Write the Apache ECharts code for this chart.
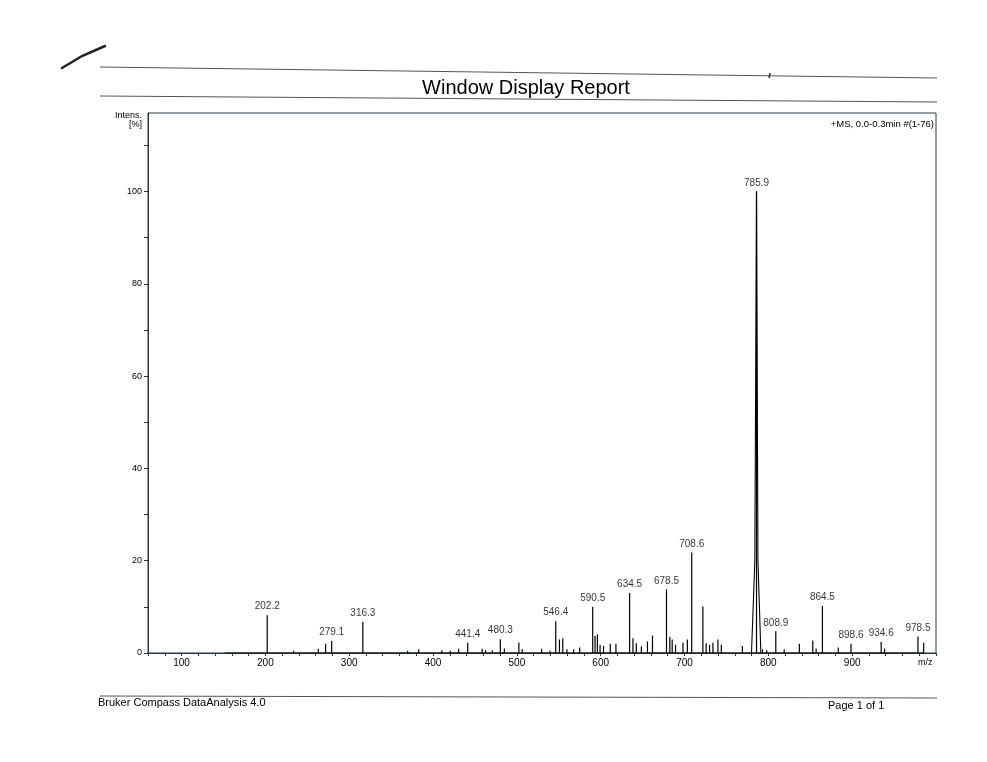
<!DOCTYPE html>
<html>
<head>
<meta charset="utf-8">
<title>Window Display Report</title>
<script src="https://cdn.jsdelivr.net/npm/echarts@6/dist/echarts.min.js"></script>
<style>
html, body {margin: 0; padding: 0; background: #fff;}
#report {width: 987px; height: 762px;}
</style>
</head>
<body>
<div id="report"></div>
<script>
// labelled peaks (m/z, intensity %)
var labelMz  = [202.2, 279.1, 316.3, 441.4, 480.3, 546.4, 590.5, 634.5, 678.5, 708.6, 785.9, 808.9, 864.5, 898.6, 934.6, 978.5];
var labelInt = [8.2,   2.6,   6.7,   2.2,   3.0,   6.9,   10.0,  13.0,  13.8,  21.8,  100,   4.7,   10.2,  2.0,   2.4,   3.6];

// small unlabelled peaks
var minorMz  = [152, 178, 188, 233.7, 263.1, 271.9, 359.7, 369.7, 382.9, 410.5, 420.5, 430.6, 458.6, 462.7, 470.7, 485.1, 502.4, 506.4,
                529.5, 539.6, 550.8, 554.8, 559.7, 567.7, 575, 593.3, 596.1, 599.3, 603.4, 611.4, 618.2,
                638.5, 642.5, 648.5, 655.8, 661.8, 682.5, 685.3, 689.3, 698.2, 703.4,
                721.9, 725.8, 729.9, 733.9, 739.9, 743.9, 769, 793, 798, 818.9, 837, 853, 857, 883.4, 938.6, 985.3];
var minorInt = [0.2, 0.3, 0.3, 0.5, 0.9, 2.0, 0.4, 0.5, 0.8, 0.6, 0.5, 0.9, 0.9, 0.6, 0.6, 1.0, 2.3, 0.8,
                0.9, 0.5, 2.9, 3.2, 0.8, 0.8, 1.2, 3.7, 4.0, 1.8, 1.5, 2.0, 2.0,
                3.2, 2.1, 1.4, 2.5, 3.8, 3.5, 2.9, 1.8, 2.2, 2.9,
                10.1, 2.1, 1.8, 2.2, 2.9, 1.8, 1.5, 0.8, 0.6, 0.8, 2.0, 2.7, 1.0, 1.2, 1.0, 2.2];

// profile of the base peak
var baseMz  = [779.9, 783.9, 785.9, 787.6, 791.1];
var baseInt = [0, 20, 100, 20, 0];

// tick labels
var xTicks = [100, 200, 300, 400, 500, 600, 700, 800, 900];
var yTicks = [0, 20, 40, 60, 80, 100];

var lineColor = '#000';
var frameColor = '#26364a';
var textColor = '#000';
var font = 'Liberation Sans';

// stick spectrum
var peaks = [];
for (var i = 0; i < labelMz.length; i++) peaks.push([labelMz[i], labelInt[i]]);
for (var j = 0; j < minorMz.length; j++) peaks.push([minorMz[j], minorInt[j]]);
peaks.sort(function (a, b) { return a[0] - b[0]; });
var sticks = [];
for (var k = 0; k < peaks.length; k++) {
	sticks.push([peaks[k][0], 0]);
	sticks.push([peaks[k][0], peaks[k][1]]);
	sticks.push([peaks[k][0], 0]);
}
var profile = [];
for (var p = 0; p < baseMz.length; p++) profile.push([baseMz[p], baseInt[p]]);
var labels = [];
for (var q = 0; q < labelMz.length; q++) labels.push([labelMz[q], labelInt[q]]);

var chart = echarts.init(document.getElementById('report'));
var option = {
	backgroundColor: '#ffffff',
	animation: false,
	grid: {
		left: 148, top: 113, right: 51, bottom: 109,
		show: true, borderColor: frameColor, borderWidth: 1
	},
	xAxis: {
		type: 'value',
		min: 60, max: 1000, interval: 20,
		name: 'm/z',
		nameLocation: 'end',
		nameGap: -18,
		nameTextStyle: {color: textColor, fontSize: 9, fontFamily: font, verticalAlign: 'top', padding: [5, 0, 0, 0]},
		axisLine: {lineStyle: {color: frameColor, width: 1}},
		axisTick: {length: 3, lineStyle: {color: frameColor}},
		axisLabel: {
			color: textColor, fontSize: 10, fontFamily: font, margin: 5,
			formatter: function (v) { return xTicks.indexOf(v) >= 0 ? String(v) : ''; }
		},
		splitLine: {show: false}
	},
	yAxis: {
		type: 'value',
		min: 0, max: 117, interval: 10,
		axisLine: {show: true, lineStyle: {color: frameColor, width: 1}},
		axisTick: {length: 4, lineStyle: {color: frameColor}},
		axisLabel: {
			color: textColor, fontSize: 9, fontFamily: font, margin: 6,
			showMaxLabel: false,
			formatter: function (v) { return yTicks.indexOf(v) >= 0 ? String(v) : ''; }
		},
		splitLine: {show: false}
	},
	series: [{
		name: 'spectrum',
		type: 'line',
		data: sticks,
		showSymbol: false,
		sampling: null,
		lineStyle: {color: lineColor, width: 1.2},
		z: 3
	}, {
		name: 'profile',
		type: 'line',
		data: profile,
		showSymbol: false,
		lineStyle: {color: lineColor, width: 1.1},
		z: 3
	}, {
		name: 'labels',
		type: 'scatter',
		data: labels,
		symbolSize: 1,
		itemStyle: {color: 'rgba(0,0,0,0)'},
		label: {
			show: true, position: 'top', distance: 3,
			color: textColor, fontSize: 10, fontFamily: font,
			formatter: function (params) { return params.value[0].toFixed(1); }
		},
		z: 4
	}],
	graphic: [
		// pen mark
		{type: 'polyline', shape: {points: [[62, 68], [82, 56], [105, 46]]}, style: {stroke: '#222', lineWidth: 2.5, lineCap: 'round', fill: null}},
		// header rules
		{type: 'line', shape: {x1: 100, y1: 67, x2: 937, y2: 78}, style: {stroke: '#555', lineWidth: 1}},
		{type: 'line', shape: {x1: 770, y1: 73, x2: 769, y2: 78}, style: {stroke: '#333', lineWidth: 1.5}},
		{type: 'line', shape: {x1: 100, y1: 96, x2: 937, y2: 102}, style: {stroke: '#555', lineWidth: 1}},
		{type: 'text', x: 526, y: 88, style: {text: 'Window Display Report', fill: '#000', font: '20px "Liberation Sans"', align: 'center', verticalAlign: 'middle'}},
		{type: 'text', x: 142, y: 116, style: {text: 'Intens.', fill: textColor, font: '9px "Liberation Sans"', align: 'right', verticalAlign: 'middle'}},
		{type: 'text', x: 142, y: 125, style: {text: '[%]', fill: textColor, font: '9px "Liberation Sans"', align: 'right', verticalAlign: 'middle'}},
		{type: 'text', x: 934, y: 124, style: {text: '+MS, 0.0-0.3min #(1-76)', fill: textColor, font: '9.5px "Liberation Sans"', align: 'right', verticalAlign: 'middle'}},
		// footer
		{type: 'line', shape: {x1: 100, y1: 696, x2: 937, y2: 698}, style: {stroke: '#555', lineWidth: 1}},
		{type: 'text', x: 98, y: 703, style: {text: 'Bruker Compass DataAnalysis 4.0', fill: textColor, font: '11px "Liberation Sans"', align: 'left', verticalAlign: 'middle'}},
		{type: 'text', x: 828, y: 706, style: {text: 'Page 1 of 1', fill: textColor, font: '11px "Liberation Sans"', align: 'left', verticalAlign: 'middle'}}
	]
};
chart.setOption(option);
</script>
</body>
</html>
